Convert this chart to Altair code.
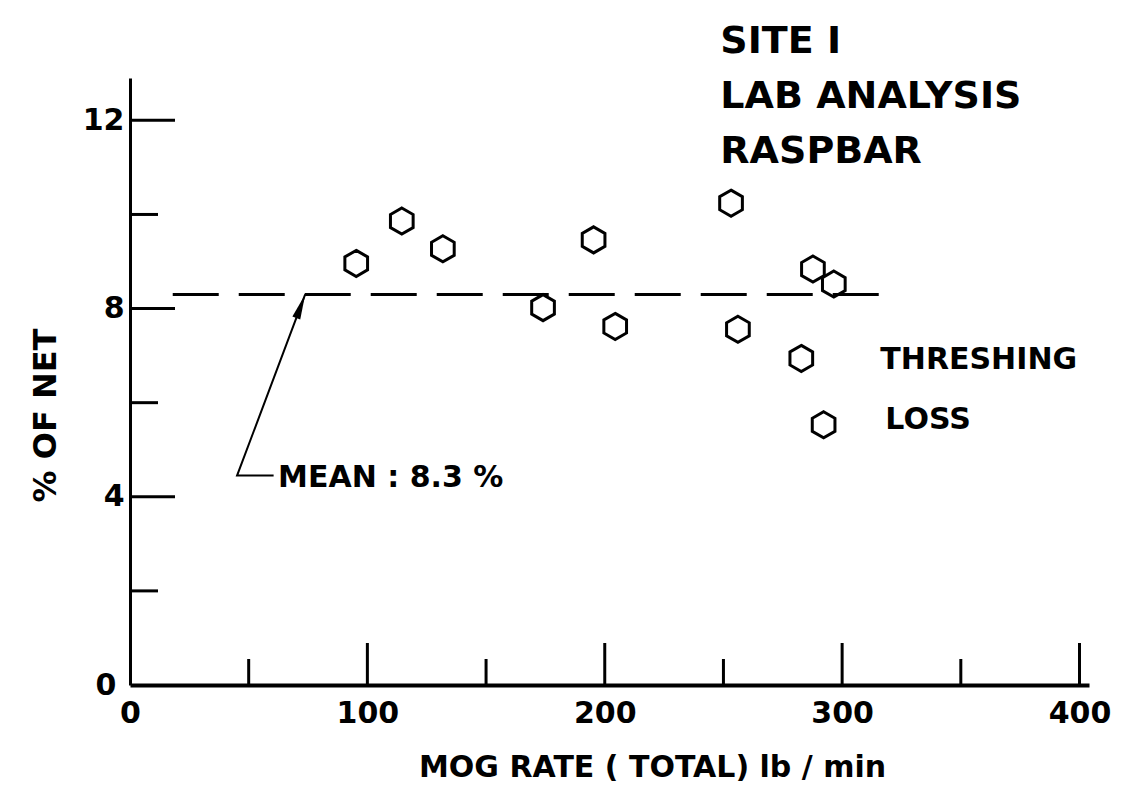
import math
import altair as alt
import pandas as pd

# Threshing loss measurements (lab analysis, rasp bar cylinder)
mog_rate = [95.3, 114.5, 131.8, 174.0, 195.3, 204.4, 253.2, 256.1, 282.8, 287.7, 296.5, 292.2]
loss_pct = [8.96, 9.86, 9.27, 8.02, 9.46, 7.62, 10.24, 7.56, 6.94, 8.84, 8.52, 5.53]

mean_loss = 8.3
mean_span = [18, 320]

x_label_values = [0, 100, 200, 300, 400]
x_major = [100, 200, 300, 400]
x_minor = [50, 150, 250, 350]
y_label_values = [4, 8, 12]
y_major = [4, 8, 12]
y_minor = [2, 6, 10]

title_lines = ["SITE  I", "LAB ANALYSIS", "RASPBAR"]
legend_lines = ["THRESHING", "LOSS"]
mean_text = "MEAN : 8.3 %"

# ---- layout -------------------------------------------------------------
FONT = "DejaVu Sans"
W, H = 959, 607
X_DOMAIN = [0, 404]
Y_DOMAIN = [0, 12.9]
x_per_px = (X_DOMAIN[1] - X_DOMAIN[0]) / W
y_per_px = (Y_DOMAIN[1] - Y_DOMAIN[0]) / H

xs = alt.Scale(domain=X_DOMAIN, nice=False, zero=False)
ys = alt.Scale(domain=Y_DOMAIN, nice=False, zero=False)

x_axis = alt.Axis(
    values=x_label_values, ticks=False, grid=False,
    domainColor="black", domainWidth=4,
    labelFont=FONT, labelFontSize=30, labelFontWeight="bold", labelColor="black",
    labelPadding=13, labelFlush=False, labelOverlap=False,
    title="MOG RATE ( TOTAL) lb / min", titleFont=FONT, titleFontSize=30,
    titleFontWeight="bold", titleColor="black",
    titleX=522, titleY=82, titleAlign="center", titleBaseline="middle",
)
y_axis = alt.Axis(
    values=y_label_values, ticks=False, grid=False,
    domainColor="black", domainWidth=3,
    labelFont=FONT, labelFontSize=30, labelFontWeight="bold", labelColor="black",
    labelPadding=6, labelFlush=False, labelOverlap=False,
    title="% OF NET", titleFont=FONT, titleFontSize=32, titleFontWeight="bold",
    titleColor="black", titleAngle=270,
    titleX=-85, titleY=337, titleAlign="center", titleBaseline="middle",
)

# ---- data tables --------------------------------------------------------
pts = pd.DataFrame({"mog": mog_rate, "loss": loss_pct})

xticks = pd.DataFrame({
    "v": x_major + x_minor,
    "base": 0.0,
    "top": [42 * y_per_px] * len(x_major) + [26 * y_per_px] * len(x_minor),
})
yticks = pd.DataFrame({
    "v": y_major + y_minor,
    "base": 0.0,
    "right": [45 * x_per_px] * len(y_major) + [28 * x_per_px] * len(y_minor),
})

mean_df = pd.DataFrame({"x": [mean_span[0]], "x2": [mean_span[1]], "y": [mean_loss]})

# leader from the MEAN note up to the dashed mean line
leader_joint = (45.1, 4.45)
leader_end_x = 60.5
tip_x = 73.8
leader = pd.DataFrame({
    "x": [leader_end_x, leader_joint[0], tip_x],
    "y": [leader_joint[1], leader_joint[1], mean_loss],
    "o": [0, 1, 2],
})
dx_px = (tip_x - leader_joint[0]) / x_per_px
dy_px = (mean_loss - leader_joint[1]) / y_per_px
head_angle = math.degrees(math.atan2(dx_px, dy_px))
head = pd.DataFrame({"x": [tip_x], "y": [mean_loss]})

title_df = pd.DataFrame({"x": [248.7] * 3, "y": [13.67, 12.50, 11.33], "t": title_lines})
legend_df = pd.DataFrame({"x": [316.1, 318.2], "y": [6.91, 5.63], "t": legend_lines})
mean_lbl = pd.DataFrame({"x": [62.4], "y": [4.40], "t": [mean_text]})
origin_lbl = pd.DataFrame({"x": [-14.5], "y": [-0.02], "t": ["0"]})

# ---- marks --------------------------------------------------------------
HEX = "M0,-1L0.87,-0.5L0.87,0.5L0,1L-0.87,0.5L-0.87,-0.5Z"
ARROW = "M0,0L0.3,1.8L-0.3,1.8Z"

points = alt.Chart(pts).mark_point(
    shape=HEX, size=680, filled=False, color="black", strokeWidth=3, opacity=1
).encode(
    x=alt.X("mog:Q", scale=xs, axis=x_axis),
    y=alt.Y("loss:Q", scale=ys, axis=y_axis),
)

xtick_rules = alt.Chart(xticks).mark_rule(color="black", strokeWidth=3).encode(
    x=alt.X("v:Q", scale=xs), y=alt.Y("base:Q", scale=ys), y2="top:Q"
)
ytick_rules = alt.Chart(yticks).mark_rule(color="black", strokeWidth=3).encode(
    y=alt.Y("v:Q", scale=ys), x=alt.X("base:Q", scale=xs), x2="right:Q"
)

mean_rule = alt.Chart(mean_df).mark_rule(
    color="black", strokeWidth=3, strokeDash=[46, 20]
).encode(x=alt.X("x:Q", scale=xs), x2="x2:Q", y=alt.Y("y:Q", scale=ys))

leader_line = alt.Chart(leader).mark_line(color="black", strokeWidth=2).encode(
    x=alt.X("x:Q", scale=xs), y=alt.Y("y:Q", scale=ys), order="o:Q"
)
arrow_head = alt.Chart(head).mark_point(
    shape=ARROW, size=784, filled=True, color="black", opacity=1, angle=head_angle
).encode(x=alt.X("x:Q", scale=xs), y=alt.Y("y:Q", scale=ys))


def text_layer(df, size):
    return alt.Chart(df).mark_text(
        font=FONT, fontSize=size, fontWeight="bold", color="black",
        align="left", baseline="middle",
    ).encode(x=alt.X("x:Q", scale=xs), y=alt.Y("y:Q", scale=ys), text="t:N")


titles = text_layer(title_df, 38)
legend_txt = text_layer(legend_df, 30)
mean_txt = text_layer(mean_lbl, 30)
origin_txt = text_layer(origin_lbl, 30)

chart = alt.layer(
    xtick_rules, ytick_rules, mean_rule, leader_line, arrow_head,
    points, titles, legend_txt, mean_txt, origin_txt,
).properties(
    width=W, height=H,
    autosize=alt.AutoSizeParams(type="none"),
    padding={"left": 130, "top": 78, "right": 32, "bottom": 107},
    background="white",
).configure_view(stroke=None)

chart.save("out.html", embed_options={"renderer": "svg", "actions": False})
